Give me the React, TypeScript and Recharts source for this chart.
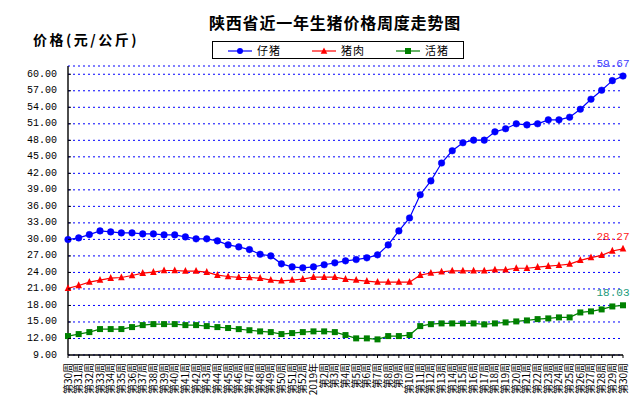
import React from "react";
import { LineChart, Line, XAxis, YAxis, CartesianGrid, Legend } from "recharts";

const weeks = [
  "第30周", "第31周", "第32周", "第33周", "第34周", "第35周", "第36周", "第37周", "第38周", "第39周",
  "第40周", "第41周", "第42周", "第43周", "第44周", "第45周", "第46周", "第47周", "第48周", "第49周",
  "第50周", "第51周", "第52周", "2019年", "第2周", "第3周", "第4周", "第5周", "第6周", "第7周",
  "第8周", "第9周", "第10周", "第11周", "第12周", "第13周", "第14周", "第15周", "第16周", "第17周",
  "第18周", "第19周", "第20周", "第21周", "第22周", "第23周", "第24周", "第25周", "第26周", "第27周",
  "第28周", "第29周", "第30周",
];

const piglet = [
  29.97, 30.27, 30.87, 31.54, 31.36, 31.18, 31.18, 31.0, 31.0, 30.82,
  30.82, 30.45, 30.1, 30.1, 29.73, 29.0, 28.64, 28.15, 27.3, 27.0,
  25.56, 25.0, 24.84, 25.0, 25.4, 25.74, 26.1, 26.34, 26.65, 27.19,
  29.0, 31.54, 33.9, 38.12, 40.63, 43.87, 46.1, 47.55, 48.03, 48.03,
  49.54, 50.1, 51.0, 50.8, 51.0, 51.72, 51.72, 52.2, 53.65, 55.47,
  57.1, 58.84, 59.67,
];

const pork = [
  21.1, 21.63, 22.23, 22.6, 22.95, 23.08, 23.44, 23.86, 24.04, 24.35,
  24.35, 24.23, 24.23, 24.04, 23.5, 23.26, 23.1, 23.08, 22.95, 22.6,
  22.48, 22.6, 22.77, 23.13, 23.13, 23.13, 22.77, 22.6, 22.41, 22.23,
  22.23, 22.23, 22.23, 23.5, 23.9, 24.1, 24.3, 24.3, 24.3, 24.3,
  24.47, 24.47, 24.76, 24.76, 24.95, 25.13, 25.3, 25.5, 26.2, 26.7,
  27.1, 27.9, 28.27,
];

const hog = [
  12.44, 12.8, 13.16, 13.71, 13.71, 13.71, 14.07, 14.43, 14.61, 14.61,
  14.61, 14.43, 14.43, 14.25, 14.07, 13.9, 13.7, 13.5, 13.29, 13.16,
  12.8, 12.98, 13.16, 13.29, 13.29, 13.16, 12.62, 12.02, 12.02, 11.84,
  12.44, 12.44, 12.62, 14.25, 14.6, 14.74, 14.74, 14.74, 14.74, 14.56,
  14.74, 14.92, 15.1, 15.28, 15.52, 15.65, 15.83, 15.83, 16.73, 16.92,
  17.28, 17.82, 18.03,
];

const yTicks = [9, 12, 15, 18, 21, 24, 27, 30, 33, 36, 39, 42, 45, 48, 51, 54, 57, 60];

const seriesNames = ["仔猪", "猪肉", "活猪"];
const seriesColors = ["#0000ff", "#ff0000", "#008000"];
const labelColors = ["#4040ff", "#ff2020", "#1a9a7a"];

const data = weeks.map((w, i) => ({
  week: w,
  piglet: piglet[i],
  pork: pork[i],
  hog: hog[i],
}));

const CJK = "'Noto Sans CJK SC', 'Noto Sans', sans-serif";
const MONO = "'Liberation Mono', 'DejaVu Sans Mono', monospace";

function CircleDot(props: any) {
  const { cx, cy, index } = props;
  if (cx == null || cy == null) return null;
  return <circle key={`c-${index}`} cx={cx} cy={cy} r={3.3} fill="#0000ff" stroke="#0000ff" strokeWidth={0.5} />;
}

function TriangleDot(props: any) {
  const { cx, cy, index } = props;
  if (cx == null || cy == null) return null;
  const s = 3.3;
  return (
    <path
      key={`t-${index}`}
      d={`M${cx},${cy - s - 0.8} L${cx + s},${cy + s - 0.6} L${cx - s},${cy + s - 0.6} Z`}
      fill="#ff0000"
    />
  );
}

function SquareDot(props: any) {
  const { cx, cy, index } = props;
  if (cx == null || cy == null) return null;
  return <rect key={`s-${index}`} x={cx - 3} y={cy - 3} width={6} height={6} fill="#008000" />;
}

const makeEndLabel = (color: string) => (props: any) => {
  const { x, y, index, value } = props;
  if (index !== data.length - 1) return null;
  return (
    <text
      key={`lbl-${color}`}
      x={x - 10}
      y={y - 12}
      textAnchor="middle"
      dominantBaseline="central"
      fontFamily={MONO}
      fontSize={11}
      fill={color}
    >
      {Number(value).toFixed(2)}
    </text>
  );
};

function YTick(props: any) {
  const { x, y, payload } = props;
  return (
    <g>
      <text x={x} y={y} textAnchor="end" dominantBaseline="central" fontFamily={MONO} fontSize={10} fill="#000">
        {Number(payload.value).toFixed(2)}
      </text>
      {payload.value !== 9 && (
        <line x1={x + 11} y1={y} x2={x + 14} y2={y} stroke="#000" strokeWidth={1} />
      )}
    </g>
  );
}

function XTick(props: any) {
  const { x, y, payload } = props;
  return (
    <text
      x={x}
      y={y}
      transform={`rotate(-90, ${x}, ${y})`}
      textAnchor="end"
      dy="0.35em"
      fontFamily={CJK}
      fontSize={10}
      fill="#000"
    >
      {payload.value}
    </text>
  );
}

function LegendMarker({ i }: { i: number }) {
  const c = seriesColors[i];
  return (
    <svg width={24} height={10} style={{ position: "absolute", left: 0, top: 4 }}>
      <line x1={0} y1={5} x2={24} y2={5} stroke={c} strokeWidth={1.2} />
      {i === 0 && <circle cx={12} cy={5} r={3} fill={c} />}
      {i === 1 && <path d="M12,1.5 L15.3,7.8 L8.7,7.8 Z" fill={c} />}
      {i === 2 && <rect x={9} y={2} width={6} height={6} fill={c} />}
    </svg>
  );
}

function LegendContent() {
  return (
    <div
      style={{
        position: "relative",
        width: 250,
        height: 16,
        border: "1px solid #000",
        background: "#fff",
      }}
    >
      {seriesNames.map((n, i) => (
        <div key={n} style={{ position: "absolute", left: 15 + i * 84, top: 0, height: 16, width: 70 }}>
          <LegendMarker i={i} />
          <span
            style={{
              position: "absolute",
              left: 29,
              top: 0,
              fontFamily: CJK,
              fontSize: 11,
              lineHeight: "16px",
              letterSpacing: 1,
              color: "#000",
              whiteSpace: "nowrap",
            }}
          >
            {n}
          </span>
        </div>
      ))}
    </div>
  );
}

export default function App() {
  return (
    <div style={{ position: "absolute", left: 0, top: 0, width: 638, height: 404, background: "#fff" }}>
      <LineChart
        width={638}
        height={404}
        data={data}
        margin={{ top: 66, right: 15, left: 0, bottom: 0 }}
      >
        <CartesianGrid vertical={false} stroke="#0000ff" strokeDasharray="2 3" strokeWidth={1} />
        <XAxis
          dataKey="week"
          interval={0}
          height={49}
          tick={<XTick />}
          tickSize={3}
          tickMargin={5}
          axisLine={{ stroke: "#000", strokeWidth: 1.6 }}
          tickLine={{ stroke: "#000" }}
        />
        <YAxis
          width={68}
          domain={[9, 61.5]}
          ticks={yTicks}
          interval={0}
          allowDataOverflow
          tick={<YTick />}
          tickLine={false}
          tickSize={0}
          tickMargin={11}
          axisLine={{ stroke: "#000", strokeWidth: 1.4 }}
        />
        <Legend
          layout="horizontal"
          verticalAlign="middle"
          align="center"
          wrapperStyle={{ position: "absolute", left: 212, top: 41, width: 252, height: 18 }}
          content={() => <LegendContent />}
        />
        <Line
          dataKey="piglet"
          name={seriesNames[0]}
          stroke={seriesColors[0]}
          strokeWidth={1.2}
          dot={<CircleDot />}
          activeDot={false}
          isAnimationActive={false}
          label={makeEndLabel(labelColors[0])}
        />
        <Line
          dataKey="pork"
          name={seriesNames[1]}
          stroke={seriesColors[1]}
          strokeWidth={1.2}
          dot={<TriangleDot />}
          activeDot={false}
          isAnimationActive={false}
          label={makeEndLabel(labelColors[1])}
        />
        <Line
          dataKey="hog"
          name={seriesNames[2]}
          stroke={seriesColors[2]}
          strokeWidth={1.2}
          dot={<SquareDot />}
          activeDot={false}
          isAnimationActive={false}
          label={makeEndLabel(labelColors[2])}
        />
      </LineChart>
      <div
        style={{
          position: "absolute",
          left: 209,
          top: 12,
          fontFamily: CJK,
          fontSize: 16,
          fontWeight: 700,
          letterSpacing: 0.8,
          lineHeight: "20px",
          color: "#000",
          whiteSpace: "nowrap",
        }}
      >
        陕西省近一年生猪价格周度走势图
      </div>
      <div
        style={{
          position: "absolute",
          left: 33,
          top: 29,
          fontFamily: CJK,
          fontSize: 14,
          fontWeight: 700,
          letterSpacing: 2.5,
          lineHeight: "20px",
          color: "#000",
          whiteSpace: "nowrap",
        }}
      >
        价格(元/公斤)
      </div>
    </div>
  );
}
